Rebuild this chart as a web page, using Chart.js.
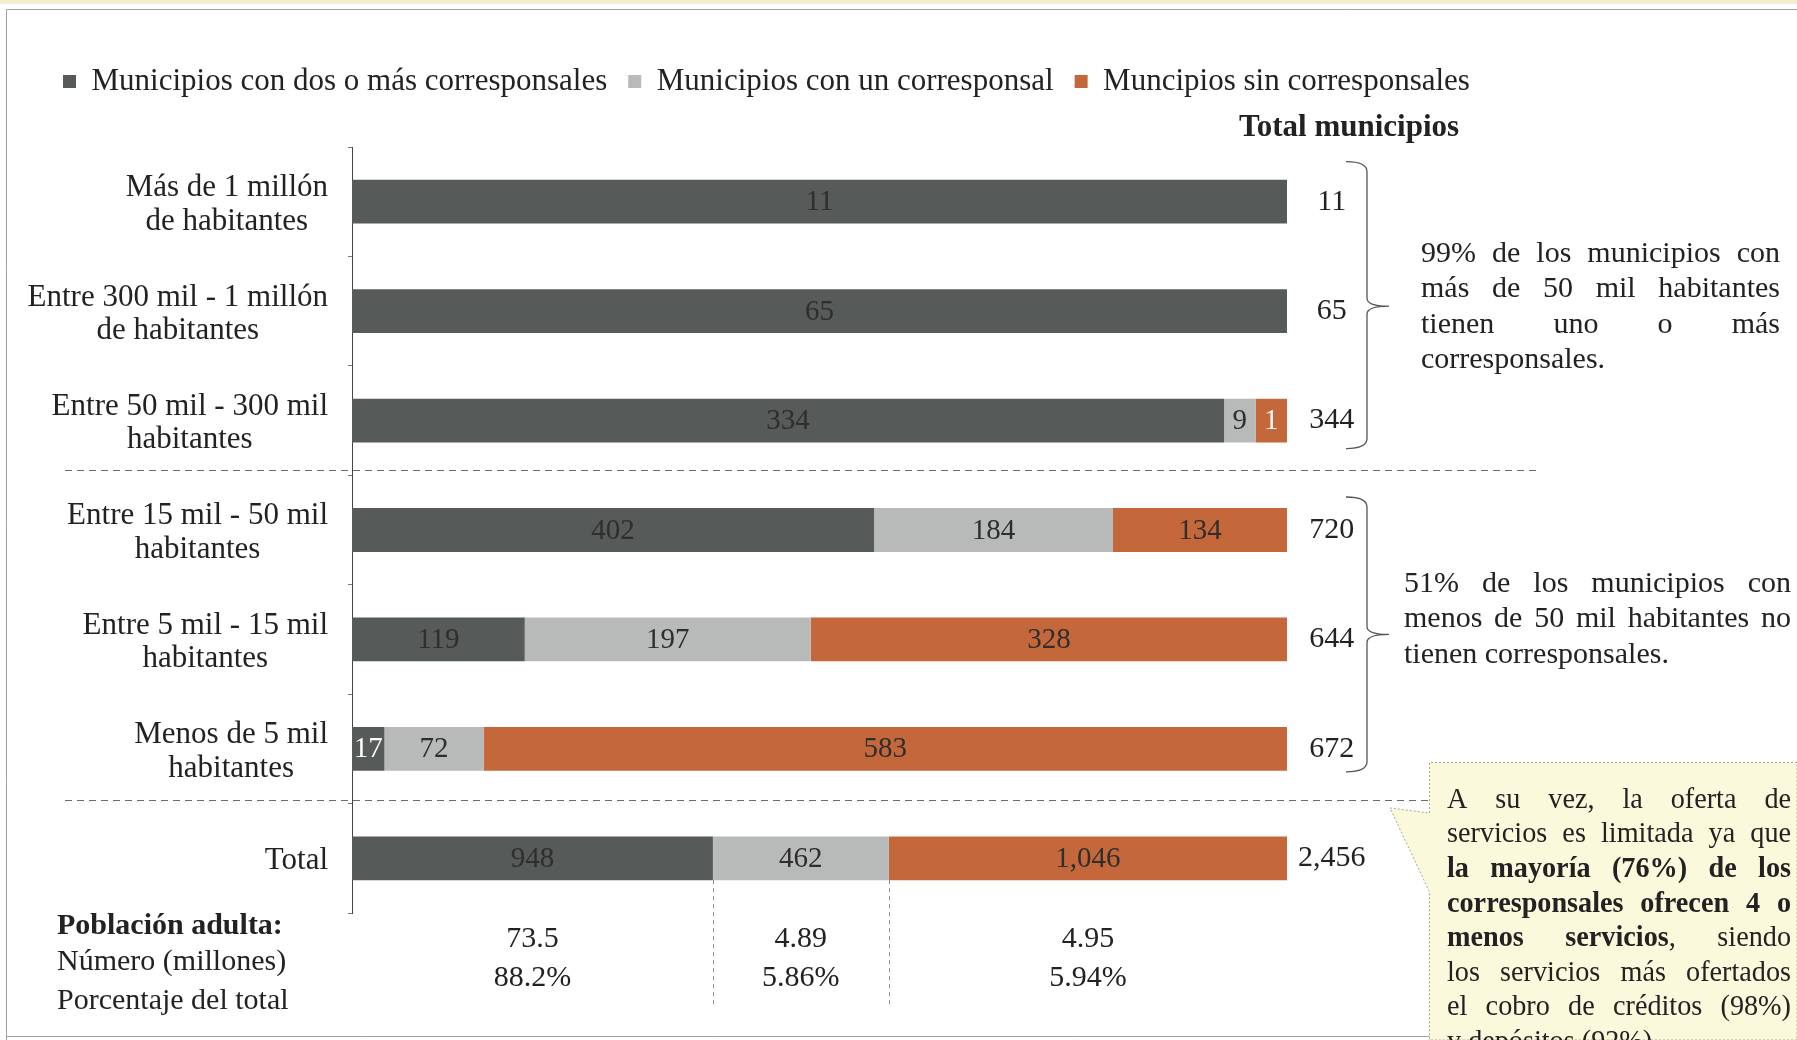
<!DOCTYPE html>
<html>
<head>
<meta charset="utf-8">
<title>Municipios y corresponsales</title>
<script src="https://cdn.jsdelivr.net/npm/chart.js@4.4.1/dist/chart.umd.min.js"></script>
<style>
  html, body { margin: 0; padding: 0; background: #fff; }
  #wrap { width: 1797px; height: 1040px; }
</style>
</head>
<body>
<div id="wrap"><canvas id="grafica" width="1797" height="1040"></canvas></div>
<script>
var SERIF = "'Liberation Serif', 'Times New Roman', serif";

var categorias = [
  ['Más de 1 millón', 'de habitantes'],
  ['Entre 300 mil - 1 millón', 'de habitantes'],
  ['Entre 50 mil - 300 mil', 'habitantes'],
  ['Entre 15 mil - 50 mil', 'habitantes'],
  ['Entre 5 mil - 15 mil', 'habitantes'],
  ['Menos de 5 mil', 'habitantes'],
  ['Total']
];
var dosOMas = [11, 65, 334, 402, 119, 17, 948];
var unCorresponsal = [0, 0, 9, 184, 197, 72, 462];
var sinCorresponsales = [0, 0, 1, 134, 328, 583, 1046];
var totalMunicipios = [11, 65, 344, 720, 644, 672, 2456];
var poblacionMillones = ['73.5', '4.89', '4.95'];
var poblacionPorcentaje = ['88.2%', '5.86%', '5.94%'];
var nombresSeries = ['Municipios con dos o más corresponsales', 'Municipios con un corresponsal', 'Muncipios sin corresponsales'];
var colores = ['#565a59', '#b8bab9', '#c4683b'];

var series = [dosOMas, unCorresponsal, sinCorresponsales];
var fmt = function(v) { return v.toLocaleString('en-US'); };

// 100% bars; very small non-zero segments get a minimum width so the label fits (as in the original)
var MIN_VISIBLE = 3.5;
var partes = series.map(function() { return []; });
totalMunicipios.forEach(function(t, i) {
  var p = series.map(function(s) { var v = s[i] / t * 100; return v > 0 ? Math.max(v, MIN_VISIBLE) : 0; });
  var suma = p.reduce(function(a, b) { return a + b; }, 0);
  p.forEach(function(v, k) { partes[k][i] = v / suma * 100; });
});

var nota1 = ['99% de los municipios con', 'más de 50 mil habitantes', 'tienen uno o más', 'corresponsales.'];
var nota2 = ['51% de los municipios con', 'menos de 50 mil habitantes no', 'tienen corresponsales.'];
var nota3 = ['A su vez, la oferta de', 'servicios es limitada ya que', '**la mayoría (76%) de los**',
  '**corresponsales ofrecen 4 o**', '**menos servicios**, siendo', 'los servicios más ofertados',
  'el cobro de créditos (98%)', 'y depósitos (92%).'];

function parseLinea(s) {
  var bold = false;
  return s.split(' ').map(function(w) {
    var piezas = [];
    w.split('**').forEach(function(p, i) {
      if (i > 0) bold = !bold;
      if (p) piezas.push({ t: p, b: bold });
    });
    return piezas;
  });
}

function dibujarLinea(ctx, linea, x, y, ancho, justificar, size) {
  var palabras = parseLinea(linea);
  var fuente = function(b) { return (b ? 'bold ' : '') + size + 'px ' + SERIF; };
  var total = 0;
  palabras.forEach(function(w) {
    w.forEach(function(p) { ctx.font = fuente(p.b); total += ctx.measureText(p.t).width; });
  });
  ctx.font = fuente(false);
  var esp = justificar && palabras.length > 1 ? (ancho - total) / (palabras.length - 1) : ctx.measureText(' ').width;
  var cx = x;
  palabras.forEach(function(w) {
    w.forEach(function(p) {
      ctx.font = fuente(p.b);
      ctx.fillText(p.t, cx, y);
      cx += ctx.measureText(p.t).width;
    });
    cx += esp;
  });
}

// sx < 1 squeezes the text horizontally (the original uses a condensed face)
function dibujarParrafo(ctx, lineas, x, y0, ancho, alto, size, ultimaJustificada, sx) {
  sx = sx || 1;
  ctx.save();
  ctx.translate(x, 0);
  ctx.scale(sx, 1);
  lineas.forEach(function(l, i) {
    var just = i < lineas.length - 1 || ultimaJustificada;
    dibujarLinea(ctx, l, 0, y0 + i * alto, ancho / sx, just, size);
  });
  ctx.restore();
}

function llave(ctx, x, y1, y2, yp) {
  var xb = x + 21, xt = x + 43;
  ctx.beginPath();
  ctx.moveTo(x, y1);
  ctx.quadraticCurveTo(xb, y1, xb, y1 + 10);
  ctx.lineTo(xb, yp - 8);
  ctx.quadraticCurveTo(xb, yp, xt, yp);
  ctx.quadraticCurveTo(xb, yp, xb, yp + 8);
  ctx.lineTo(xb, y2 - 10);
  ctx.quadraticCurveTo(xb, y2, x, y2);
  ctx.stroke();
}

var margenLeyenda = {
  id: 'margenLeyenda',
  beforeInit: function(chart) {
    var fit = chart.legend.fit;
    chart.legend.fit = function() { fit.call(this); this.height = 102; };
  }
};

var etiquetasBarras = {
  id: 'etiquetasBarras',
  afterDatasetsDraw: function(chart) {
    var ctx = chart.ctx;
    ctx.save();
    ctx.font = '29px ' + SERIF;
    ctx.textAlign = 'center';
    ctx.textBaseline = 'middle';
    series.forEach(function(s, k) {
      chart.getDatasetMeta(k).data.forEach(function(el, i) {
        if (!s[i]) return;
        var w = Math.abs(el.x - el.base);
        ctx.fillStyle = (k !== 1 && w < 45) ? '#ffffff' : '#2e2e2e';
        ctx.fillText(fmt(s[i]), (el.x + el.base) / 2, el.y + 1);
      });
    });
    ctx.restore();
  }
};

var anotaciones = {
  id: 'anotaciones',
  afterDraw: function(chart) {
    var ctx = chart.ctx, area = chart.chartArea, y = chart.scales.y;
    ctx.save();

    // frame of the scanned figure
    ctx.fillStyle = '#f3edd0';
    ctx.fillRect(0, 0, 1797, 4);
    ctx.strokeStyle = '#a0a0a0';
    ctx.lineWidth = 1;
    ctx.beginPath();
    ctx.moveTo(6.5, 1040); ctx.lineTo(6.5, 9.5); ctx.lineTo(1797, 9.5);
    ctx.moveTo(6.5, 1036.5); ctx.lineTo(1430, 1036.5);
    ctx.stroke();

    // category labels: block right-aligned, lines centred
    ctx.fillStyle = '#222';
    ctx.font = '31px ' + SERIF;
    ctx.textBaseline = 'middle';
    ctx.textAlign = 'center';
    categorias.forEach(function(lineas, i) {
      var c = y.getPixelForValue(i);
      var ancho = Math.max.apply(null, lineas.map(function(l) { return ctx.measureText(l).width; }));
      var xc = area.left - 24 - ancho / 2;
      lineas.forEach(function(l, j) {
        ctx.fillText(l, xc, c + 3 + (j - (lineas.length - 1) / 2) * 33.5);
      });
    });

    ctx.font = 'bold 31px ' + SERIF;
    ctx.fillText('Total municipios', 1349, 128);

    // dashed separators between groups
    ctx.strokeStyle = '#6a6a6a';
    ctx.setLineDash([7, 5]);
    var s1 = (y.getPixelForValue(2) + y.getPixelForValue(3)) / 2;
    var s2 = (y.getPixelForValue(5) + y.getPixelForValue(6)) / 2;
    ctx.beginPath();
    ctx.moveTo(65, Math.round(s1) - 4.5); ctx.lineTo(1536, Math.round(s1) - 4.5);
    ctx.moveTo(65, Math.round(s2) - 3.5); ctx.lineTo(1430, Math.round(s2) - 3.5);
    ctx.stroke();

    // dashed guides under the Total bar
    var m0 = chart.getDatasetMeta(0).data[6], m1 = chart.getDatasetMeta(1).data[6], m2 = chart.getDatasetMeta(2).data[6];
    var fondo = m0.y + m0.height / 2;
    ctx.strokeStyle = '#8a8a8a';
    ctx.setLineDash([4, 4]);
    ctx.beginPath();
    [m0.x, m1.x].forEach(function(xx) {
      ctx.moveTo(Math.round(xx) + 0.5, fondo);
      ctx.lineTo(Math.round(xx) + 0.5, 1006);
    });
    ctx.stroke();
    ctx.setLineDash([]);

    // braces
    ctx.strokeStyle = '#555';
    ctx.lineWidth = 1.3;
    llave(ctx, 1346, y.getPixelForValue(0) - 40, y.getPixelForValue(2) + 28, y.getPixelForValue(1) - 5);
    llave(ctx, 1346, y.getPixelForValue(3) - 33, y.getPixelForValue(5) + 23, y.getPixelForValue(4) - 5);

    // side notes
    ctx.fillStyle = '#222';
    ctx.textAlign = 'left';
    dibujarParrafo(ctx, nota1, 1421, 254, 359, 35.5, 30, false);
    dibujarParrafo(ctx, nota2, 1404, 584, 387, 35.5, 30, false);

    // population block
    ctx.font = 'bold 30px ' + SERIF;
    ctx.fillText('Población adulta:', 57, 926);
    ctx.font = '30px ' + SERIF;
    ctx.fillText('Número (millones)', 57, 962);
    ctx.fillText('Porcentaje del total', 57, 1001);
    ctx.textAlign = 'center';
    [m0, m1, m2].forEach(function(el, k) {
      var xc = (el.x + el.base) / 2;
      ctx.fillText(poblacionMillones[k], xc, 939);
      ctx.fillText(poblacionPorcentaje[k], xc, 978);
    });

    // callout box
    ctx.fillStyle = '#fbf9dc';
    ctx.strokeStyle = '#a7a58c';
    ctx.lineWidth = 1;
    ctx.setLineDash([2, 2]);
    ctx.beginPath();
    ctx.moveTo(1797, 762.5);
    ctx.lineTo(1429.5, 762.5);
    ctx.lineTo(1429.5, 813);
    ctx.lineTo(1390, 808);
    ctx.lineTo(1429.5, 892);
    ctx.lineTo(1429.5, 1040);
    ctx.lineTo(1797, 1040);
    ctx.closePath();
    ctx.fill();
    ctx.stroke();
    ctx.setLineDash([]);
    ctx.fillStyle = '#222';
    ctx.textAlign = 'left';
    dibujarParrafo(ctx, nota3, 1447, 800, 344, 34.6, 30, false, 0.94);

    ctx.restore();
  }
};

Chart.defaults.font.family = SERIF;

new Chart(document.getElementById('grafica'), {
  type: 'bar',
  data: {
    labels: categorias.map(function(c) { return c.join(' '); }),
    datasets: series.map(function(s, k) {
      return {
        label: nombresSeries[k],
        data: partes[k],
        backgroundColor: colores[k],
        borderWidth: 0,
        categoryPercentage: 0.4,
        barPercentage: 1
      };
    })
  },
  options: {
    indexAxis: 'y',
    responsive: false,
    animation: false,
    layout: { padding: { left: 42, top: 45, right: 0, bottom: 127 } },
    scales: {
      x: { stacked: true, display: false, min: 0, max: 100 },
      y: {
        stacked: true,
        position: 'left',
        ticks: { display: false },
        grid: { drawOnChartArea: false, drawTicks: true, tickLength: 4, offset: true, color: '#777' },
        border: { display: true, color: '#444', width: 1 },
        afterFit: function(s) { s.width = 310; }
      },
      y2: {
        type: 'category',
        labels: totalMunicipios.map(fmt),
        position: 'right',
        offset: true,
        grid: { display: false },
        border: { display: false },
        ticks: { crossAlign: 'center', padding: 3, color: '#222', font: { size: 30 } },
        afterFit: function(s) { s.width = 510; }
      }
    },
    plugins: {
      legend: {
        position: 'top',
        align: 'start',
        labels: { boxWidth: 13, boxHeight: 13, padding: 21, color: '#222', font: { size: 31 } }
      },
      tooltip: { enabled: false }
    }
  },
  plugins: [margenLeyenda, etiquetasBarras, anotaciones]
});
</script>
</body>
</html>
